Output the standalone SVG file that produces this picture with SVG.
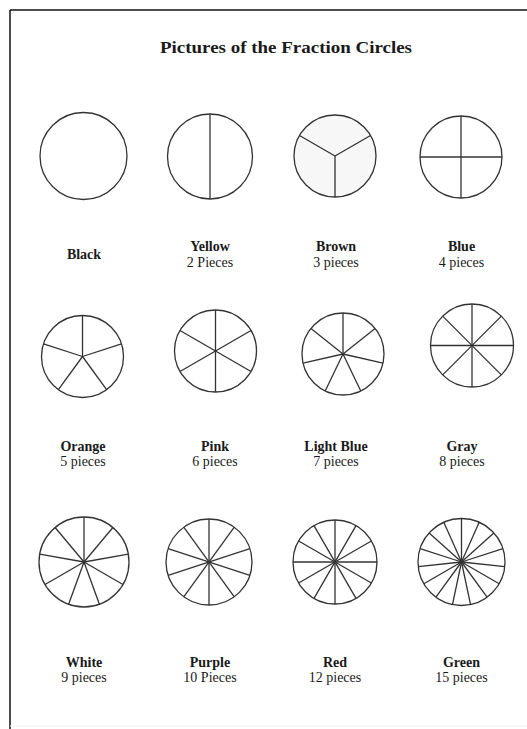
<svg xmlns="http://www.w3.org/2000/svg" width="527" height="729" viewBox="0 0 527 729">
<style>
.c{fill:#fff;stroke:#333;stroke-width:1.3}
.s{stroke:#333;stroke-width:1.3}
.t{font-family:"Liberation Serif","Times New Roman",serif;font-size:14px;fill:#1a1a1a;text-anchor:middle}
.b{font-weight:bold}
.title{font-family:"Liberation Serif","Times New Roman",serif;font-size:17.5px;font-weight:bold;fill:#1a1a1a}
</style>
<rect width="527" height="729" fill="#fff"/>
<g id="frame" fill="none">
<line x1="10" y1="10" x2="527" y2="10" stroke="#111" stroke-width="1.5"/>
<line x1="10" y1="10" x2="10" y2="729" stroke="#111" stroke-width="1.5"/>
<line x1="10" y1="726" x2="527" y2="726" stroke="#f0f0f0" stroke-width="1"/>
</g>
<text class="title" x="160" y="53" textLength="252" lengthAdjust="spacingAndGlyphs">Pictures of the Fraction Circles</text>

<g id="black">
<circle class="c" cx="83.5" cy="156" r="43.5"/>
<text class="t b" x="84" y="259">Black</text>
</g>
<g id="yellow">
<circle class="c" cx="210" cy="156.5" r="42.5"/>
<line class="s" x1="210" y1="114" x2="210" y2="199"/>
<text class="t b" x="210" y="251">Yellow</text>
<text class="t" x="210" y="266.5">2 Pieces</text>
</g>
<g id="brown">
<circle class="c" cx="335" cy="156" r="41" style="fill:#f7f7f7"/>
<g transform="translate(335,156)">
<line class="s" x1="0" y1="0" x2="0" y2="-41" transform="rotate(180)"/>
<line class="s" x1="0" y1="0" x2="0" y2="-41" transform="rotate(60)"/>
<line class="s" x1="0" y1="0" x2="0" y2="-41" transform="rotate(300)"/>
</g>
<text class="t b" x="336" y="251">Brown</text>
<text class="t" x="336" y="266.5">3 pieces</text>
</g>
<g id="blue">
<circle class="c" cx="461" cy="157" r="41"/>
<line class="s" x1="461" y1="116" x2="461" y2="198"/>
<line class="s" x1="420" y1="157" x2="502" y2="157"/>
<text class="t b" x="461.5" y="251">Blue</text>
<text class="t" x="461.5" y="266.5">4 pieces</text>
</g>

<g id="orange">
<circle class="c" cx="82.5" cy="356.5" r="41"/>
<g transform="translate(82.5,356.5)">
<line class="s" x1="0" y1="0" x2="0" y2="-41"/>
<line class="s" x1="0" y1="0" x2="0" y2="-41" transform="rotate(72)"/>
<line class="s" x1="0" y1="0" x2="0" y2="-41" transform="rotate(144)"/>
<line class="s" x1="0" y1="0" x2="0" y2="-41" transform="rotate(216)"/>
<line class="s" x1="0" y1="0" x2="0" y2="-41" transform="rotate(288)"/>
</g>
<text class="t b" x="83" y="451">Orange</text>
<text class="t" x="83" y="466">5 pieces</text>
</g>
<g id="pink">
<circle class="c" cx="215.5" cy="351" r="41"/>
<g transform="translate(215.5,351)">
<line class="s" x1="0" y1="-41" x2="0" y2="41"/>
<line class="s" x1="0" y1="-41" x2="0" y2="41" transform="rotate(60)"/>
<line class="s" x1="0" y1="-41" x2="0" y2="41" transform="rotate(120)"/>
</g>
<text class="t b" x="215" y="451">Pink</text>
<text class="t" x="215" y="466">6 pieces</text>
</g>
<g id="lightblue">
<circle class="c" cx="343" cy="354" r="41"/>
<g transform="translate(343,354)">
<line class="s" x1="0" y1="0" x2="0" y2="-41"/>
<line class="s" x1="0" y1="0" x2="0" y2="-41" transform="rotate(51.43)"/>
<line class="s" x1="0" y1="0" x2="0" y2="-41" transform="rotate(102.86)"/>
<line class="s" x1="0" y1="0" x2="0" y2="-41" transform="rotate(154.29)"/>
<line class="s" x1="0" y1="0" x2="0" y2="-41" transform="rotate(205.71)"/>
<line class="s" x1="0" y1="0" x2="0" y2="-41" transform="rotate(257.14)"/>
<line class="s" x1="0" y1="0" x2="0" y2="-41" transform="rotate(308.57)"/>
</g>
<text class="t b" x="336" y="451">Light Blue</text>
<text class="t" x="336" y="466">7 pieces</text>
</g>
<g id="gray">
<circle class="c" cx="472" cy="345.5" r="41.5"/>
<g transform="translate(472,345.5)">
<line class="s" x1="0" y1="-41.5" x2="0" y2="41.5"/>
<line class="s" x1="0" y1="-41.5" x2="0" y2="41.5" transform="rotate(45)"/>
<line class="s" x1="0" y1="-41.5" x2="0" y2="41.5" transform="rotate(90)"/>
<line class="s" x1="0" y1="-41.5" x2="0" y2="41.5" transform="rotate(135)"/>
</g>
<text class="t b" x="462" y="451">Gray</text>
<text class="t" x="462" y="466">8 pieces</text>
</g>

<g id="white">
<circle class="c" cx="84" cy="562" r="45"/>
<g transform="translate(84,562)">
<line class="s" x1="0" y1="0" x2="0" y2="-45"/>
<line class="s" x1="0" y1="0" x2="0" y2="-45" transform="rotate(40)"/>
<line class="s" x1="0" y1="0" x2="0" y2="-45" transform="rotate(80)"/>
<line class="s" x1="0" y1="0" x2="0" y2="-45" transform="rotate(120)"/>
<line class="s" x1="0" y1="0" x2="0" y2="-45" transform="rotate(160)"/>
<line class="s" x1="0" y1="0" x2="0" y2="-45" transform="rotate(200)"/>
<line class="s" x1="0" y1="0" x2="0" y2="-45" transform="rotate(240)"/>
<line class="s" x1="0" y1="0" x2="0" y2="-45" transform="rotate(280)"/>
<line class="s" x1="0" y1="0" x2="0" y2="-45" transform="rotate(320)"/>
</g>
<text class="t b" x="84" y="667">White</text>
<text class="t" x="84" y="682">9 pieces</text>
</g>
<g id="purple">
<circle class="c" cx="209" cy="562" r="43"/>
<g transform="translate(209,562)">
<line class="s" x1="0" y1="-43" x2="0" y2="43"/>
<line class="s" x1="0" y1="-43" x2="0" y2="43" transform="rotate(36)"/>
<line class="s" x1="0" y1="-43" x2="0" y2="43" transform="rotate(72)"/>
<line class="s" x1="0" y1="-43" x2="0" y2="43" transform="rotate(108)"/>
<line class="s" x1="0" y1="-43" x2="0" y2="43" transform="rotate(144)"/>
</g>
<text class="t b" x="210" y="667">Purple</text>
<text class="t" x="210" y="682">10 Pieces</text>
</g>
<g id="red">
<circle class="c" cx="335" cy="562" r="42"/>
<g transform="translate(335,562)">
<line class="s" x1="0" y1="-42" x2="0" y2="42"/>
<line class="s" x1="0" y1="-42" x2="0" y2="42" transform="rotate(30)"/>
<line class="s" x1="0" y1="-42" x2="0" y2="42" transform="rotate(60)"/>
<line class="s" x1="0" y1="-42" x2="0" y2="42" transform="rotate(90)"/>
<line class="s" x1="0" y1="-42" x2="0" y2="42" transform="rotate(120)"/>
<line class="s" x1="0" y1="-42" x2="0" y2="42" transform="rotate(150)"/>
</g>
<text class="t b" x="335" y="667">Red</text>
<text class="t" x="335" y="682">12 pieces</text>
</g>
<g id="green">
<circle class="c" cx="461.5" cy="562" r="43.5"/>
<g transform="translate(461.5,562)">
<line class="s" x1="0" y1="0" x2="0" y2="-43.5"/>
<line class="s" x1="0" y1="0" x2="0" y2="-43.5" transform="rotate(24)"/>
<line class="s" x1="0" y1="0" x2="0" y2="-43.5" transform="rotate(48)"/>
<line class="s" x1="0" y1="0" x2="0" y2="-43.5" transform="rotate(72)"/>
<line class="s" x1="0" y1="0" x2="0" y2="-43.5" transform="rotate(96)"/>
<line class="s" x1="0" y1="0" x2="0" y2="-43.5" transform="rotate(120)"/>
<line class="s" x1="0" y1="0" x2="0" y2="-43.5" transform="rotate(144)"/>
<line class="s" x1="0" y1="0" x2="0" y2="-43.5" transform="rotate(168)"/>
<line class="s" x1="0" y1="0" x2="0" y2="-43.5" transform="rotate(192)"/>
<line class="s" x1="0" y1="0" x2="0" y2="-43.5" transform="rotate(216)"/>
<line class="s" x1="0" y1="0" x2="0" y2="-43.5" transform="rotate(240)"/>
<line class="s" x1="0" y1="0" x2="0" y2="-43.5" transform="rotate(264)"/>
<line class="s" x1="0" y1="0" x2="0" y2="-43.5" transform="rotate(288)"/>
<line class="s" x1="0" y1="0" x2="0" y2="-43.5" transform="rotate(312)"/>
<line class="s" x1="0" y1="0" x2="0" y2="-43.5" transform="rotate(336)"/>
</g>
<text class="t b" x="461.5" y="667">Green</text>
<text class="t" x="461.5" y="682">15 pieces</text>
</g>
</svg>
